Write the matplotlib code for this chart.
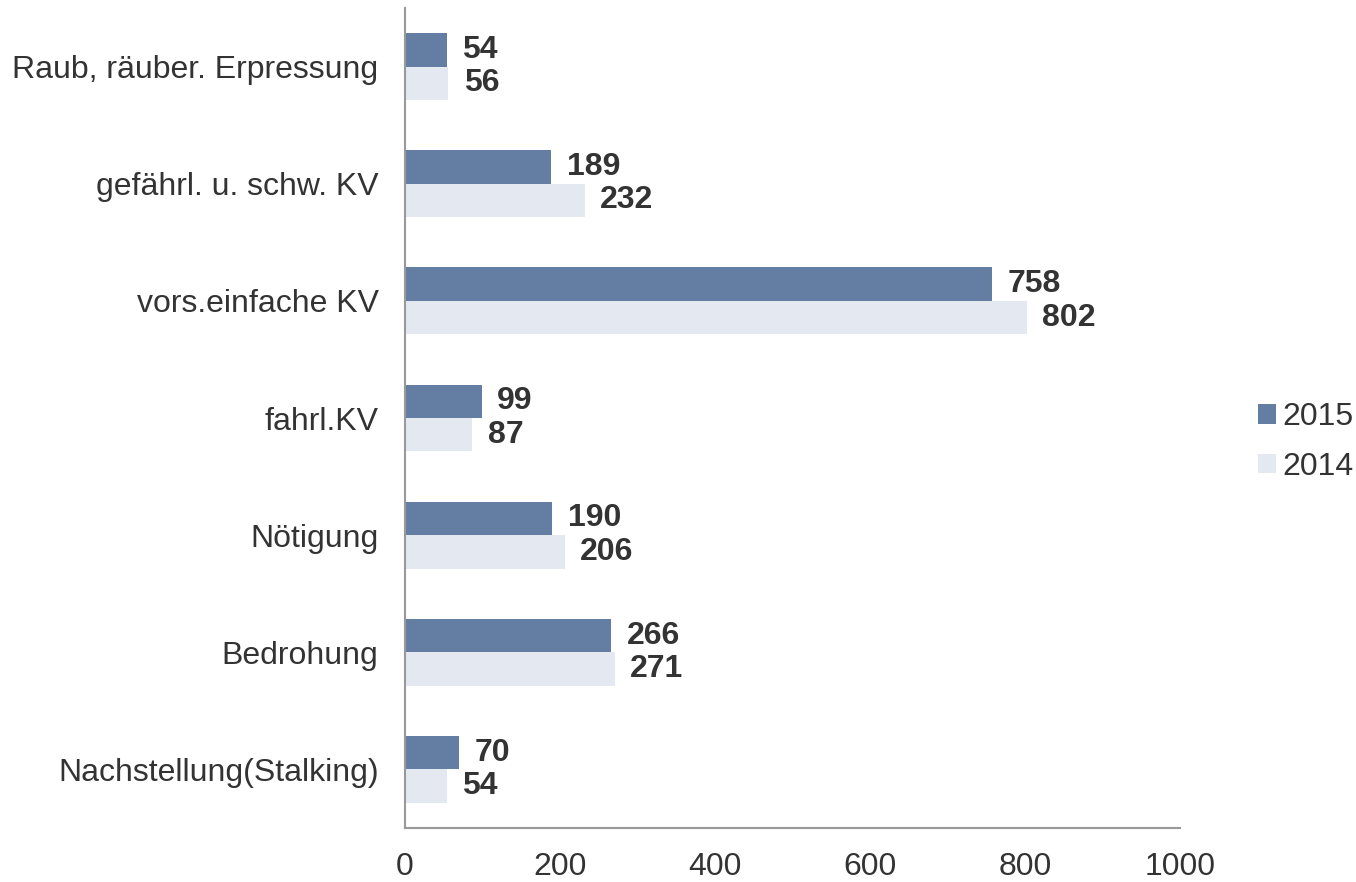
import matplotlib
matplotlib.use("Agg")
import matplotlib.pyplot as plt
import numpy as np

categories = ["Raub, räuber. Erpressung", "gefährl. u. schw. KV", "vors.einfache KV",
              "fahrl.KV", "Nötigung", "Bedrohung", "Nachstellung(Stalking)"]
values_2015 = [54, 189, 758, 99, 190, 266, 70]
values_2014 = [56, 232, 802, 87, 206, 271, 54]
series_names = ["2015", "2014"]
xticks = [0, 200, 400, 600, 800, 1000]

plt.rcParams['font.family'] = ['Liberation Sans', 'DejaVu Sans']
fig = plt.figure(figsize=(13.56, 8.82), dpi=100)
ax = fig.add_axes([405/1356, 54/882, 775/1356, 820/882])

y = np.arange(len(categories))
h = 0.285
c15 = "#647EA3"
c14 = "#E4E8F0"
b1 = ax.barh(y - h/2, values_2015, height=h, color=c15, label=series_names[0])
b2 = ax.barh(y + h/2, values_2014, height=h, color=c14, label=series_names[1])

for yy, v in zip(y - h/2, values_2015):
    ax.annotate(str(v), (v, yy), xytext=(11, 0), textcoords="offset points",
                va="center", ha="left", fontsize=23, fontweight="bold", color="#333333")
for yy, v in zip(y + h/2, values_2014):
    ax.annotate(str(v), (v, yy), xytext=(11, 0), textcoords="offset points",
                va="center", ha="left", fontsize=23, fontweight="bold", color="#333333")

ax.set_xlim(0, 1000)
ax.set_ylim(len(categories) - 0.5, -0.5)
ax.set_yticks(y)
ax.set_yticklabels(categories, fontsize=23, color="#333333")
ax.set_xticks(xticks)
ax.set_xticklabels([str(t) for t in xticks], fontsize=23, color="#333333")
ax.tick_params(axis="both", length=0)
ax.tick_params(axis="y", pad=19)
ax.tick_params(axis="x", pad=17)
for s in ["top", "right"]:
    ax.spines[s].set_visible(False)
for s in ["left", "bottom"]:
    ax.spines[s].set_color("#999999")
    ax.spines[s].set_linewidth(1.5)

leg = fig.legend(handles=[b1, b2], loc="center left", bbox_to_anchor=(1252/1356, 1 - 442/882),
                 frameon=False, fontsize=23, handlelength=0.55, handleheight=0.55,
                 handletextpad=0.2, labelspacing=0.6, labelcolor="#333333",
                 borderpad=0.2, borderaxespad=0)

fig.savefig("out.png", dpi=100)
